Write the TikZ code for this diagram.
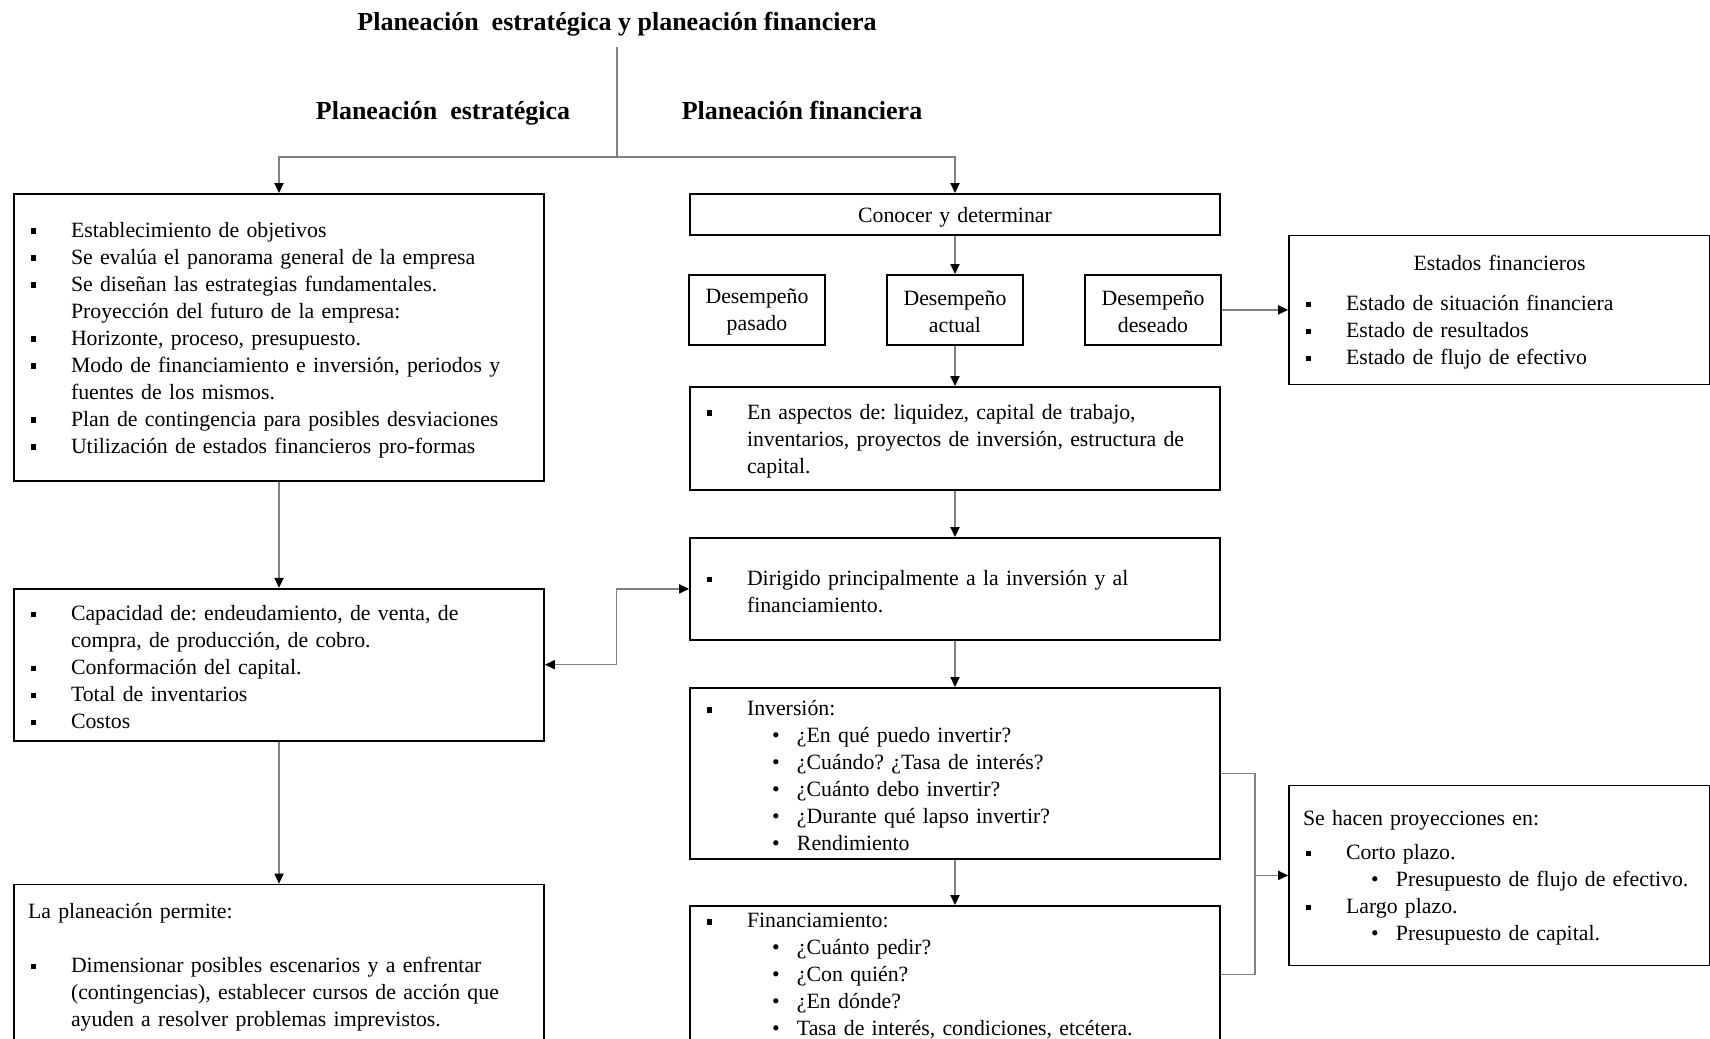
\documentclass[tikz,border=0pt]{standalone}
\usepackage{fontspec}
\setmainfont{Liberation Serif}
\usetikzlibrary{positioning, arrows.meta}
\frenchspacing

\newcommand{\sqbul}{\rule[1.6pt]{2.7pt}{2.7pt}}
\newcommand{\itm}[1]{\makebox[21.5pt][l]{\hspace{1.5pt}\sqbul}\mbox{#1}}
\newcommand{\itmcont}[1]{\hspace*{21.5pt}\mbox{#1}}
\newcommand{\subitm}[1]{\hspace*{34pt}\makebox[12.5pt][l]{\textbullet}\mbox{#1}}

\begin{document}
\begin{tikzpicture}[
    every node/.style={font=\fontsize{10.9}{13.5}\selectfont},
    head/.style={font=\fontsize{13}{15.6}\selectfont\bfseries, anchor=base},
    panel/.style={draw=black, line width=0.9pt, text width=251pt, text height=10pt, inner xsep=7pt, inner ysep=2pt, align=left},
    wide/.style={panel, text width=196.5pt},
    perf/.style={draw=black, line width=0.9pt, text width=64pt, minimum height=35pt, text height=9.5pt, align=center, inner xsep=2pt, inner ysep=2pt},
    conn/.style={line width=0.6pt, color=black!50},
    arr/.style={conn, -{Triangle[length=5pt, width=4.6pt, color=black]}},
    biarr/.style={conn, {Triangle[length=5pt, width=4.6pt, color=black]}-{Triangle[length=5pt, width=4.6pt, color=black]}}
]
\useasboundingbox (0,0) rectangle (855pt,-519.5pt);

% Titles
\node[head] (title) at (308.5pt,-15pt) {Planeación\ \ estratégica y planeación financiera};
\node[head] (hstr) at (221.5pt,-59.8pt) {Planeación\ \ estratégica};
\node[head] (hfin) at (401pt,-59.8pt) {Planeación financiera};
\coordinate (split) at (308.5pt,-78.5pt);

% Strategic column
\node[panel, anchor=north, minimum height=143.5pt] (estr) at (139.5pt,-96.5pt) {%
\itm{Establecimiento de objetivos}\\
\itm{Se evalúa el panorama general de la empresa}\\
\itm{Se diseñan las estrategias fundamentales.}\\
\itmcont{Proyección del futuro de la empresa:}\\
\itm{Horizonte, proceso, presupuesto.}\\
\itm{Modo de financiamiento e inversión, periodos y}\\
\itmcont{fuentes de los mismos.}\\
\itm{Plan de contingencia para posibles desviaciones}\\
\itm{Utilización de estados financieros pro-formas}};

\node[panel, below=53pt of estr, minimum height=76pt] (capac) {%
\itm{Capacidad de: endeudamiento, de venta, de}\\
\itmcont{compra, de producción, de cobro.}\\
\itm{Conformación del capital.}\\
\itm{Total de inventarios}\\
\itm{Costos}};

\node[panel, below=71pt of capac, text height=10.5pt, inner ysep=6.5pt, text depth=95pt] (permite) {%
La planeación permite:\\[13.5pt]
\itm{Dimensionar posibles escenarios y a enfrentar}\\
\itmcont{(contingencias), establecer cursos de acción que}\\
\itmcont{ayuden a resolver problemas imprevistos.}};

% Financial column
\node[panel, anchor=north, minimum height=20.5pt, align=center] (conocer) at (477.5pt,-96.5pt) {Conocer y determinar};

\node[perf, below=19.1pt of conocer] (actual) {Desempeño\\actual};
\node[perf, left=30.1pt of actual] (pasado) {Desempeño\\pasado};
\node[perf, right=30.1pt of actual] (deseado) {Desempeño\\deseado};

\node[wide, right=33.1pt of deseado, minimum height=74.5pt] (estados) {%
{\centering Estados financieros\par}\vspace{6.5pt}
\itm{Estado de situación financiera}\\
\itm{Estado de resultados}\\
\itm{Estado de flujo de efectivo}};

\node[panel, below=20.1pt of actual, minimum height=51.5pt] (aspectos) {%
\itm{En aspectos de: liquidez, capital de trabajo,}\\
\itmcont{inventarios, proyectos de inversión, estructura de}\\
\itmcont{capital.}};

\node[panel, below=23.1pt of aspectos, minimum height=51pt] (dirigido) {%
\itm{Dirigido principalmente a la inversión y al}\\
\itmcont{financiamiento.}};

\node[panel, below=23.1pt of dirigido, minimum height=85.5pt] (inversion) {%
\itm{Inversión:}\\
\subitm{¿En qué puedo invertir?}\\
\subitm{¿Cuándo? ¿Tasa de interés?}\\
\subitm{¿Cuánto debo invertir?}\\
\subitm{¿Durante qué lapso invertir?}\\
\subitm{Rendimiento}};

\node[panel, below=22.6pt of inversion, minimum height=68pt, text height=9pt] (financ) {%
\itm{Financiamiento:}\\
\subitm{¿Cuánto pedir?}\\
\subitm{¿Con quién?}\\
\subitm{¿En dónde?}\\
\subitm{Tasa de interés, condiciones, etcétera.}};

\node[wide, below=199.6pt of estados, minimum height=90pt] (proyecc) {%
Se hacen proyecciones en:\\[3.5pt]
\itm{Corto plazo.}\\
\subitm{Presupuesto de flujo de efectivo.}\\
\itm{Largo plazo.}\\
\subitm{Presupuesto de capital.}};

% Arrows
\draw[conn] ([yshift=-2pt]title.south) -- (split);
\draw[arr] (split) -| (estr.north);
\draw[arr] (split) -| (conocer.north);
\draw[arr] (estr) -- (capac);
\draw[arr] (capac) -- (permite);
\draw[arr] (conocer) -- (actual);
\draw[arr] (deseado) -- (estados);
\draw[arr] (actual) -- (aspectos);
\draw[arr] (aspectos) -- (dirigido);
\draw[arr] (dirigido) -- (inversion);
\draw[arr] (inversion) -- (financ);
\draw[biarr] (capac.east) -| ([xshift=-36.5pt]dirigido.west) -- (dirigido.west);
\draw[conn] (inversion.east) -- ++(17pt,0) |- (financ.east);
\draw[arr] ([xshift=17pt]inversion.east) |- (proyecc.west);

\end{tikzpicture}
\end{document}
